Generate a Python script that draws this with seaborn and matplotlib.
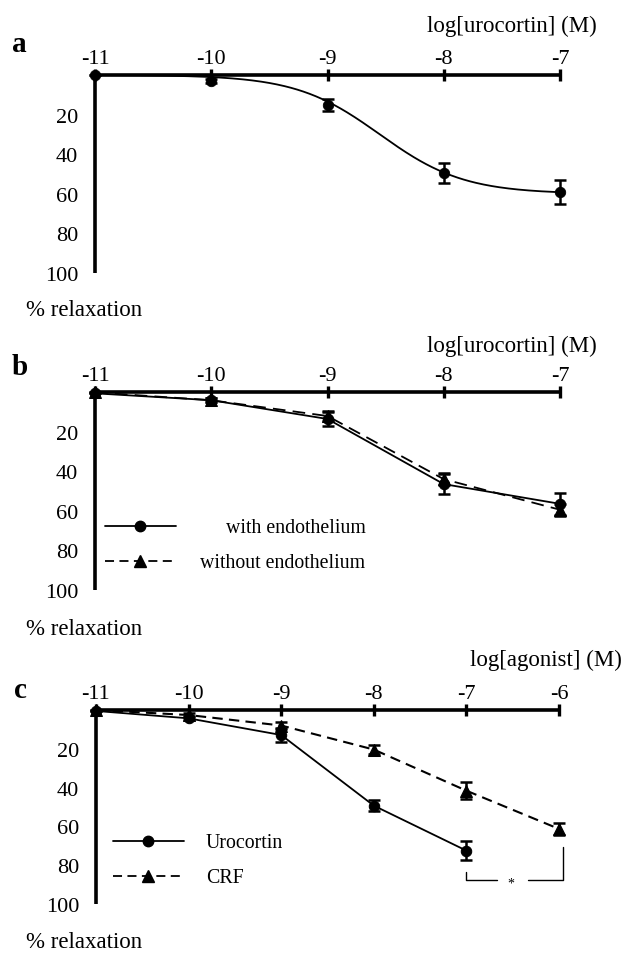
import numpy as np
import pandas as pd
import matplotlib
matplotlib.use("Agg")
import matplotlib.pyplot as plt
import seaborn as sns
from matplotlib.lines import Line2D
from matplotlib.legend import Legend

sns.set_theme(style="white")
plt.rcParams["font.family"] = ["Liberation Serif", "DejaVu Serif"]
plt.rcParams.update({"text.color": "black", "axes.labelcolor": "black",
                     "xtick.color": "black", "ytick.color": "black"})

# ---------------- data ----------------
# panel a
a_logc = [-11, -10, -9, -8, -7]
a_relax = [0, 3, 15, 49.5, 59]
a_err = [0, 1, 3, 5, 6]
# fitted sigmoid parameters (panel a curve)
fit_top = 60.0
fit_logec50 = -8.55
fit_hill = 1.2

# panel b
b_logc = [-11, -10, -9, -8, -7]
b_with = [0.5, 4, 13.5, 46.5, 56.5]
b_with_err = [0, 1, 3.5, 5, 5.5]
b_without = [0, 4, 12, 44, 59.5]
b_without_err = [0, 1, 2.5, 3, 3]

# panel c
c_uro_logc = [-11, -10, -9, -8, -7]
c_uro = [0.5, 4.3, 12.9, 49.3, 72.5]
c_uro_err = [0, 1, 3.5, 3, 5]
c_crf_logc = [-11, -10, -9, -8, -7, -6]
c_crf = [0, 2.6, 8, 20.4, 41.6, 61.3]
c_crf_err = [0, 1, 2, 2.5, 4.5, 3]

y_ticks = [0, 20, 40, 60, 80, 100]
y_ticklabels = ["", "20", "40", "60", "80", "100"]

W, H = 626, 954
fig = plt.figure(figsize=(W / 100, H / 100), dpi=100)
fig.patch.set_facecolor("white")


def add_axes_px(left, top, right, bottom):
    return fig.add_axes([left / W, 1 - bottom / H, (right - left) / W, (bottom - top) / H])


def fpos(x, y):
    return x / W, 1 - y / H


def style(ax, xmin, xmax):
    ax.set_xlim(xmin - 0.1, xmax + 0.1)
    ax.set_ylim(102, -2)
    ax.set_facecolor("none")
    for s in ["right", "bottom"]:
        ax.spines[s].set_visible(False)
    for s in ["top", "left"]:
        ax.spines[s].set_visible(True)
        ax.spines[s].set_linewidth(2.6)
        ax.spines[s].set_color("black")
        ax.spines[s].set_capstyle("butt")
    ax.spines["top"].set_position(("data", 0))
    ax.spines["left"].set_position(("data", xmin))
    ax.spines["top"].set_bounds(xmin, xmax)
    ax.spines["left"].set_bounds(0, 100)
    ax.xaxis.tick_top()
    ax.set_xticks(list(range(xmin, xmax + 1)))
    ax.set_xticklabels([f"-{abs(v)}" for v in range(xmin, xmax + 1)])
    ax.set_yticks(y_ticks)
    ax.set_yticklabels(y_ticklabels)
    ax.tick_params(axis="both", direction="inout", length=8, width=2.4,
                   color="black", labelsize=16, labelcolor="black")
    ax.tick_params(axis="x", pad=1)
    ax.tick_params(axis="y", pad=8)
    ax.set_xlabel("")
    ax.set_ylabel("")
    ax.grid(False)
    if ax.get_legend() is not None:
        ax.get_legend().remove()


MS = 7.5
LEG_FS = 14.3
LAB_FS = 16.5


def one_entry_legend(ax, handle, label, x_px, y_px, pad):
    leg = Legend(ax, [handle], [label], loc="center left",
                 bbox_to_anchor=fpos(x_px, y_px), bbox_transform=fig.transFigure,
                 frameon=False, fontsize=LEG_FS, handlelength=3.57,
                 handletextpad=pad, borderpad=0, borderaxespad=0)
    ax.add_artist(leg)
    return leg


# ---------------- panel a ----------------
axa = add_axes_px(83.4, 72.0, 571.6, 278.0)
xs = np.linspace(-11, -7, 300)
fit_df = pd.DataFrame({"x": xs,
                       "y": fit_top / (1 + 10 ** ((fit_logec50 - xs) * fit_hill))})
sns.lineplot(data=fit_df, x="x", y="y", ax=axa, color="black", lw=1.3)
axa.errorbar(a_logc, a_relax, yerr=a_err, fmt="none", ecolor="black",
             elinewidth=1.8, capsize=4.5, capthick=1.8, clip_on=False)
sns.scatterplot(x=a_logc, y=a_relax, ax=axa, color="black", s=MS ** 2,
                marker="o", edgecolor="black", clip_on=False, zorder=5)
style(axa, -11, -7)
fig.text(*fpos(597, 32), "log[urocortin] (M)", ha="right", va="baseline", fontsize=LAB_FS)
fig.text(*fpos(12, 52), "a", ha="left", va="baseline", fontsize=21, fontweight="bold")
fig.text(*fpos(26, 316), "% relaxation", ha="left", va="baseline", fontsize=LAB_FS)

# ---------------- panel b ----------------
axb = add_axes_px(83.4, 389.4, 571.6, 594.6)
axb.errorbar(b_logc, b_with, yerr=b_with_err, fmt="none", ecolor="black",
             elinewidth=1.8, capsize=4.5, capthick=1.8, clip_on=False)
axb.errorbar(b_logc, b_without, yerr=b_without_err, fmt="none", ecolor="black",
             elinewidth=1.8, capsize=4.5, capthick=1.8, clip_on=False)
sns.lineplot(x=b_logc, y=b_with, ax=axb, color="black", lw=1.3, marker="o",
             markersize=MS, markeredgecolor="black", clip_on=False)
sns.lineplot(x=b_logc, y=b_without, ax=axb, color="black", lw=1.3, marker="^",
             markersize=MS + 1, markeredgecolor="black", linestyle=(0, (7, 4)),
             clip_on=False)
style(axb, -11, -7)
h_solid = Line2D([], [], color="black", lw=1.3, marker="o", markersize=MS)
h_dash = Line2D([], [], color="black", lw=1.3, marker="^", markersize=MS + 1,
                linestyle=(0, (5, 3)))
one_entry_legend(axb, h_solid, "with endothelium", 105, 529, 2.5)
one_entry_legend(axb, h_dash, "without endothelium", 105, 564, 1.2)
fig.text(*fpos(597, 352), "log[urocortin] (M)", ha="right", va="baseline", fontsize=LAB_FS)
fig.text(*fpos(12, 375), "b", ha="left", va="baseline", fontsize=21, fontweight="bold")
fig.text(*fpos(26, 635), "% relaxation", ha="left", va="baseline", fontsize=LAB_FS)

# ---------------- panel c ----------------
axc = add_axes_px(86.7, 707.1, 568.3, 908.9)
axc.errorbar(c_uro_logc, c_uro, yerr=c_uro_err, fmt="none", ecolor="black",
             elinewidth=1.8, capsize=4.5, capthick=1.8, clip_on=False)
axc.errorbar(c_crf_logc, c_crf, yerr=c_crf_err, fmt="none", ecolor="black",
             elinewidth=1.8, capsize=4.5, capthick=1.8, clip_on=False)
sns.lineplot(x=c_uro_logc, y=c_uro, ax=axc, color="black", lw=1.3, marker="o",
             markersize=MS, markeredgecolor="black", clip_on=False)
sns.lineplot(x=c_crf_logc, y=c_crf, ax=axc, color="black", lw=1.5, marker="^",
             markersize=MS + 1, markeredgecolor="black", linestyle=(0, (5, 3)),
             clip_on=False)
style(axc, -11, -6)
one_entry_legend(axc, h_solid, "Urocortin", 113, 844, 1.1)
one_entry_legend(axc, h_dash, "CRF", 113, 879, 1.1)
# significance bracket between -7 (urocortin) and -6 (CRF)
brk_y = 87.6
axc.plot([-7, -7, -6.67], [83.5, brk_y, brk_y], color="black", lw=1.0, clip_on=False)
axc.plot([-6.34, -5.96, -5.96], [brk_y, brk_y, 70.6], color="black", lw=1.0, clip_on=False)
axc.text(-6.52, brk_y + 1.5, "*", ha="center", va="center", fontsize=10)
fig.text(*fpos(622, 666), "log[agonist] (M)", ha="right", va="baseline", fontsize=LAB_FS)
fig.text(*fpos(14, 698), "c", ha="left", va="baseline", fontsize=21, fontweight="bold")
fig.text(*fpos(26, 948), "% relaxation", ha="left", va="baseline", fontsize=LAB_FS)

fig.savefig("out.png", dpi=100, facecolor="white")
